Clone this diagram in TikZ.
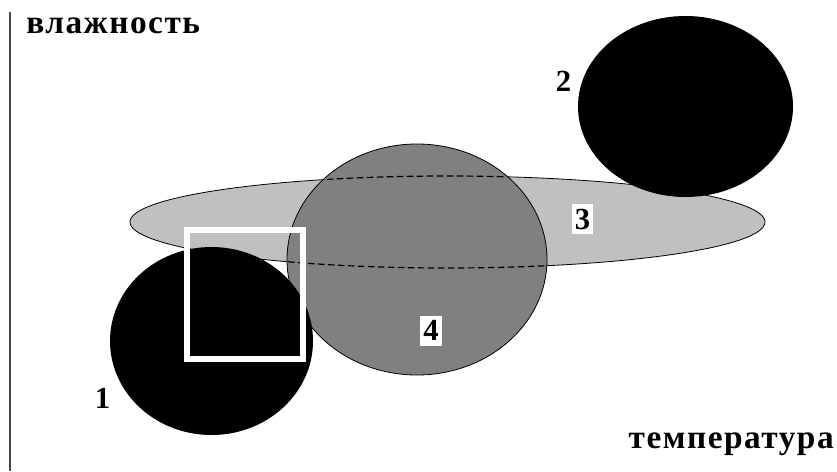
\documentclass[tikz,border=0pt]{standalone}
\usepackage{fontspec}
\setmainfont{Liberation Serif}
\newfontfamily\axisfont[LetterSpace=4.5]{Liberation Serif}
\usetikzlibrary{positioning}
\definecolor{zonelight}{RGB}{192,192,192}
\definecolor{zonemid}{RGB}{128,128,128}
\definecolor{axisgray}{RGB}{70,70,70}

\begin{document}
\begin{tikzpicture}[x=0.75pt, y=-0.75pt,
  zone/.style={draw=black, line width=0.6pt},
  blob/.style={fill=black},
  hidden/.style={draw=black, line width=0.9pt, dash pattern=on 5pt off 2.5pt},
  axislabel/.style={font=\axisfont\bfseries\fontsize{25}{30}\selectfont, inner sep=0pt},
  num/.style={font=\bfseries\fontsize{23}{23}\selectfont, inner sep=0pt},
  numbox/.style={num, fill=white, minimum width=16pt, minimum height=22.5pt}]
\useasboundingbox (0,0) rectangle (837,471);
% axis and its labels
\coordinate (top) at (10,12);
\coordinate (bottom) at (10,471);
\draw[axisgray, line width=1.5pt] (top) -- (bottom);
\node[axislabel, anchor=base west] (hum) at (26,33) {влажность};
\node[axislabel, anchor=base east] (temp) at (834,448) {температура};
% zones
\coordinate (c3) at (447.5,222);
\coordinate (c4) at (417,259.5);
\coordinate (c1) at (211.5,341);
\coordinate (c2) at (685.5,106.5);
\draw[zone, fill=zonelight] (c3) ellipse [x radius=317.5, y radius=46];
\draw[zone, fill=zonemid] (c4) ellipse [x radius=130, y radius=115.5];
\begin{scope}
  \clip (c4) ellipse [x radius=129, y radius=114.5];
  \draw[hidden] (c3) ellipse [x radius=317.5, y radius=46];
\end{scope}
\fill[blob] (c1) ellipse [x radius=101.5, y radius=94];
\fill[blob] (c2) ellipse [x radius=107.5, y radius=90.5];
% window
\draw[white, line width=4.5pt] (187.3,230.3) rectangle (303,358.7);
% numbers
\node[num] (n1) at (102.5,398.5) {1};
\node[num] (n2) at (563.5,81) {2};
\node[numbox] (n3) at (582.5,219) {3};
\node[numbox] (n4) at (431,330.5) {4};
\end{tikzpicture}
\end{document}
